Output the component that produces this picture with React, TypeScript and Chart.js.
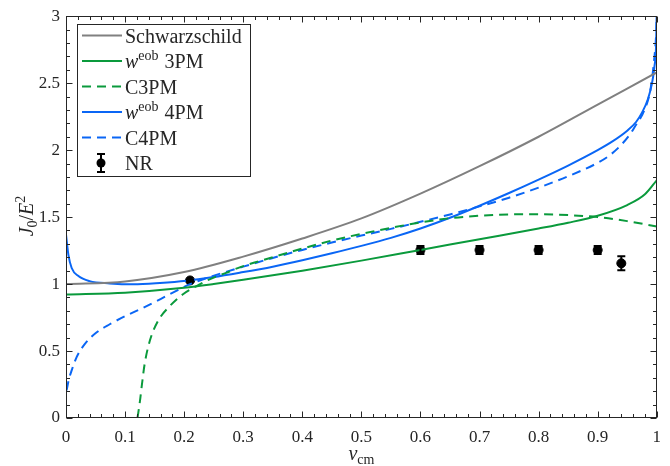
import React, { useEffect, useRef } from "react";
import { Chart, registerables } from "chart.js";

Chart.register(...registerables);

// ---------- data ----------
const schwV = [0, 0.1, 0.2, 0.3, 0.4, 0.5, 0.6, 0.7, 0.8, 0.9, 1.0];
const schwJ = [1.0, 1.02, 1.09, 1.205, 1.34, 1.49, 1.675, 1.88, 2.1, 2.34, 2.58];

const w3V = [0, 0.1, 0.2, 0.25, 0.3, 0.4, 0.5, 0.6, 0.7, 0.8, 0.85, 0.9, 0.95, 0.98, 1.0];
const w3J = [0.922, 0.936, 0.972, 1.0, 1.032, 1.1, 1.175, 1.255, 1.335, 1.415, 1.458, 1.51, 1.59, 1.67, 1.775];

const c3V = [0.121, 0.125, 0.128, 0.133, 0.142, 0.156, 0.176, 0.198, 0.221, 0.243, 0.271, 0.294, 0.35, 0.4, 0.45, 0.5, 0.55, 0.6, 0.65, 0.7, 0.75, 0.8, 0.85, 0.9, 0.95, 1.0];
const c3J = [0, 0.12, 0.23, 0.4, 0.578, 0.726, 0.837, 0.924, 0.985, 1.035, 1.084, 1.125, 1.2, 1.265, 1.325, 1.375, 1.42, 1.46, 1.492, 1.51, 1.52, 1.521, 1.515, 1.5, 1.47, 1.43];

const w4V = [0, 0.004, 0.0096, 0.021, 0.04, 0.074, 0.114, 0.159, 0.204, 0.249, 0.294, 0.35, 0.4, 0.45, 0.5, 0.55, 0.6, 0.65, 0.7, 0.75, 0.8, 0.85, 0.9, 0.925, 0.95, 0.965, 0.975, 0.985, 0.992, 0.996, 0.999, 1.0];
const w4J = [1.37, 1.22, 1.12, 1.06, 1.022, 1.005, 0.998, 1.008, 1.025, 1.052, 1.085, 1.13, 1.178, 1.23, 1.285, 1.345, 1.415, 1.495, 1.585, 1.68, 1.78, 1.885, 2.0, 2.065, 2.145, 2.21, 2.28, 2.38, 2.5, 2.62, 2.8, 3.05];

const c4V = [0.001, 0.005, 0.0096, 0.018, 0.032, 0.052, 0.074, 0.1, 0.13, 0.16, 0.18, 0.21, 0.24, 0.27, 0.3, 0.35, 0.4, 0.45, 0.5, 0.55, 0.6, 0.65, 0.7, 0.75, 0.8, 0.85, 0.9, 0.92, 0.94, 0.955, 0.965, 0.975, 0.985, 0.99, 0.995, 0.999, 1.0];
const c4J = [0.207, 0.29, 0.356, 0.454, 0.553, 0.64, 0.7, 0.76, 0.822, 0.888, 0.934, 0.999, 1.048, 1.09, 1.13, 1.195, 1.255, 1.31, 1.362, 1.412, 1.465, 1.52, 1.58, 1.645, 1.72, 1.805, 1.905, 1.96, 2.04, 2.12, 2.19, 2.26, 2.37, 2.47, 2.65, 2.87, 3.0];

const nrV = [0.21, 0.6, 0.7, 0.8, 0.9, 0.94];
const nrJ = [1.027, 1.254, 1.254, 1.254, 1.254, 1.155];
const nrErr = [0.004, 0.03, 0.03, 0.03, 0.03, 0.052];

const xMin = 0, xMax = 1, xStep = 0.1, xMinorStep = 0.02;
const yMin = 0, yMax = 3, yStep = 0.5, yMinorStep = 0.1;

// ---------- styles ----------
const FONT = '"Liberation Serif", "Times New Roman", serif';
const AXIS = "#262626";
const GRAY = "#808080";
const GREEN = "#0a9a3c";
const BLUE = "#0a66f5";
const DASH = [9, 6];

type Part = { t: string; it?: boolean; sub?: boolean; sup?: boolean };

const legendItems: { parts: Part[]; color: string; dash: number[] | null; marker?: boolean }[] = [
  { parts: [{ t: "Schwarzschild" }], color: GRAY, dash: null },
  { parts: [{ t: "w", it: true }, { t: "eob", sup: true }, { t: " 3PM" }], color: GREEN, dash: null },
  { parts: [{ t: "C3PM" }], color: GREEN, dash: DASH },
  { parts: [{ t: "w", it: true }, { t: "eob", sup: true }, { t: " 4PM" }], color: BLUE, dash: null },
  { parts: [{ t: "C4PM" }], color: BLUE, dash: DASH },
  { parts: [{ t: "NR" }], color: "#000", dash: null, marker: true },
];

const yTitle: Part[] = [{ t: "J", it: true }, { t: "0", sub: true }, { t: "/" }, { t: "E", it: true }, { t: "2", sup: true }];
const xTitle: Part[] = [{ t: "v", it: true }, { t: "cm", sub: true }];

function setFont(ctx: CanvasRenderingContext2D, p: Part, size: number, small: number) {
  const s = p.sub || p.sup ? small : size;
  ctx.font = `${p.it ? "italic " : ""}${s}px ${FONT}`;
}
function richWidth(ctx: CanvasRenderingContext2D, parts: Part[], size: number, small: number) {
  let w = 0;
  for (const p of parts) {
    setFont(ctx, p, size, small);
    w += ctx.measureText(p.t).width;
  }
  return w;
}
function drawRich(ctx: CanvasRenderingContext2D, parts: Part[], x: number, base: number, size: number, small: number) {
  let cx = x;
  ctx.textBaseline = "alphabetic";
  ctx.textAlign = "left";
  for (const p of parts) {
    setFont(ctx, p, size, small);
    const dy = p.sup ? -size * 0.4 : p.sub ? size * 0.22 : 0;
    ctx.fillText(p.t, cx, base + dy);
    cx += ctx.measureText(p.t).width + (p.sup ? 1 : 0);
  }
}

const zip = (xs: number[], ys: number[]) => xs.map((x, i) => ({ x, y: ys[i] }));
const fmt = (v: number) => String(Number(Number(v).toFixed(2)));

const decorPlugin = {
  id: "decor",
  afterDatasetsDraw(chart: any) {
    const { ctx, chartArea: ca, scales } = chart;
    const xs = scales.x, ys = scales.y;
    ctx.save();
    // error bars
    ctx.strokeStyle = "#000";
    ctx.lineWidth = 2;
    nrV.forEach((v: number, i: number) => {
      const px = xs.getPixelForValue(v);
      const y1 = ys.getPixelForValue(nrJ[i] - nrErr[i]);
      const y2 = ys.getPixelForValue(nrJ[i] + nrErr[i]);
      ctx.beginPath();
      ctx.moveTo(px, y1); ctx.lineTo(px, y2);
      ctx.moveTo(px - 4, y1); ctx.lineTo(px + 4, y1);
      ctx.moveTo(px - 4, y2); ctx.lineTo(px + 4, y2);
      ctx.stroke();
    });
    // frame
    ctx.strokeStyle = AXIS;
    ctx.lineWidth = 1;
    const L = Math.round(ca.left) + 0.5, R = Math.round(ca.right) - 0.5;
    const T = Math.round(ca.top) + 0.5, B = Math.round(ca.bottom) - 0.5;
    ctx.strokeRect(L, T, R - L, B - T);
    ctx.beginPath();
    const nX = Math.round((xMax - xMin) / xMinorStep);
    const perX = Math.round(xStep / xMinorStep);
    for (let i = 0; i <= nX; i++) {
      const px = Math.round(xs.getPixelForValue(xMin + i * xMinorStep)) + 0.5;
      const len = i % perX === 0 ? 6 : 3.5;
      ctx.moveTo(px, B); ctx.lineTo(px, B - len);
      ctx.moveTo(px, T); ctx.lineTo(px, T + len);
    }
    const nY = Math.round((yMax - yMin) / yMinorStep);
    const perY = Math.round(yStep / yMinorStep);
    for (let i = 0; i <= nY; i++) {
      const py = Math.round(ys.getPixelForValue(yMin + i * yMinorStep)) + 0.5;
      const len = i % perY === 0 ? 6 : 3.5;
      ctx.moveTo(L, py); ctx.lineTo(L + len, py);
      ctx.moveTo(R, py); ctx.lineTo(R - len, py);
    }
    ctx.stroke();

    // legend
    const bx = 77.5, by = 24.5, bw = 173, bh = 152;
    ctx.fillStyle = "#fff";
    ctx.fillRect(bx, by, bw, bh);
    ctx.strokeStyle = AXIS;
    ctx.lineWidth = 1;
    ctx.strokeRect(bx, by, bw, bh);
    const rowH = 25.5;
    legendItems.forEach((it, i) => {
      const yc = by + 11 + i * rowH;
      if (it.marker) {
        ctx.fillStyle = "#000";
        ctx.strokeStyle = "#000";
        ctx.lineWidth = 2;
        ctx.beginPath();
        ctx.moveTo(101, yc - 9); ctx.lineTo(101, yc + 9);
        ctx.moveTo(97, yc - 9); ctx.lineTo(105, yc - 9);
        ctx.moveTo(97, yc + 9); ctx.lineTo(105, yc + 9);
        ctx.stroke();
        ctx.beginPath();
        ctx.arc(101, yc, 4.5, 0, Math.PI * 2);
        ctx.fill();
      } else {
        ctx.strokeStyle = it.color;
        ctx.lineWidth = 2;
        ctx.setLineDash(it.dash ? DASH : []);
        ctx.beginPath();
        ctx.moveTo(82, yc); ctx.lineTo(122, yc);
        ctx.stroke();
        ctx.setLineDash([]);
      }
      ctx.fillStyle = AXIS;
      drawRich(ctx, it.parts, 125, yc + 7, 20, 14);
    });

    // axis titles
    ctx.fillStyle = AXIS;
    const xw = richWidth(ctx, xTitle, 20, 14);
    drawRich(ctx, xTitle, (ca.left + ca.right) / 2 - xw / 2, 460, 20, 14);
    ctx.save();
    ctx.translate(33, 216);
    ctx.rotate(-Math.PI / 2);
    const yw = richWidth(ctx, yTitle, 20, 14);
    drawRich(ctx, yTitle, -yw / 2, 0, 20, 14);
    ctx.restore();

    ctx.restore();
  },
};

export default function App() {
  const ref = useRef<HTMLCanvasElement | null>(null);
  useEffect(() => {
    if (!ref.current) return;
    const line = (label: string, xs: number[], ys: number[], color: string, dash: number[] | null) => ({
      label,
      data: zip(xs, ys),
      borderColor: color,
      backgroundColor: color,
      borderWidth: 2,
      borderDash: dash || [],
      pointRadius: 0,
      fill: false,
      cubicInterpolationMode: "monotone" as const,
    });
    const chart = new Chart(ref.current, {
      type: "line",
      data: {
        datasets: [
          line("Schwarzschild", schwV, schwJ, GRAY, null),
          line("w3PM", w3V, w3J, GREEN, null),
          line("C3PM", c3V, c3J, GREEN, DASH),
          line("w4PM", w4V, w4J, BLUE, null),
          line("C4PM", c4V, c4J, BLUE, DASH),
          {
            label: "NR",
            data: zip(nrV, nrJ),
            showLine: false,
            pointRadius: 4.5,
            pointBackgroundColor: "#000",
            pointBorderColor: "#000",
            borderColor: "#000",
            backgroundColor: "#000",
          } as any,
        ],
      },
      options: {
        animation: false,
        responsive: false,
        devicePixelRatio: 1,
        layout: { padding: { top: 13, right: 12, left: 0, bottom: 0 } },
        plugins: { legend: { display: false }, tooltip: { enabled: false } },
        scales: {
          x: {
            type: "linear",
            min: xMin,
            max: xMax,
            grid: { display: false, drawTicks: false },
            border: { display: false },
            ticks: { stepSize: xStep, padding: 9, color: AXIS, font: { family: FONT, size: 17 }, maxRotation: 0, callback: (v: any) => fmt(v) },
            afterFit: (s: any) => { s.height = 48; },
          },
          y: {
            type: "linear",
            min: yMin,
            max: yMax,
            grid: { display: false, drawTicks: false },
            border: { display: false },
            ticks: { stepSize: yStep, padding: 6, color: AXIS, font: { family: FONT, size: 17 }, callback: (v: any) => fmt(v) },
            afterFit: (s: any) => { s.width = 66; },
          },
        },
      },
      plugins: [decorPlugin],
    });
    return () => chart.destroy();
  }, []);
  return (
    <div style={{ position: "fixed", left: 0, top: 0, width: 670, height: 466, background: "#fff" }}>
      <canvas ref={ref} width={670} height={466} style={{ width: 670, height: 466, display: "block" }} />
    </div>
  );
}
